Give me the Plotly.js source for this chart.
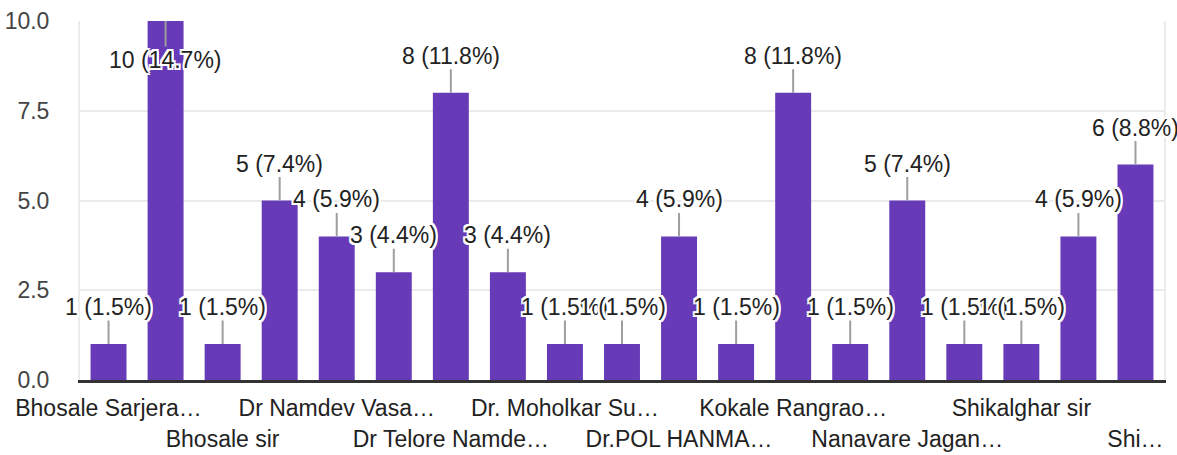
<!DOCTYPE html>
<html>
<head>
<meta charset="utf-8">
<script src="https://cdn.plot.ly/plotly-3.0.1.min.js"></script>
<style>html,body{margin:0;padding:0;background:#fff;}#chart{width:1177px;height:455px;}</style>
</head>
<body>
<div id="chart"></div>
<script>
// Tick labels shown under the bars (empty = not labelled in the chart)
const labels = [
  "Bhosale Sarjera…", "", "Bhosale sir", "", "Dr Namdev Vasa…", "", "Dr Telore Namde…", "",
  "Dr. Moholkar Su…", "", "Dr.POL HANMA…", "", "Kokale Rangrao…", "", "Nanavare Jagan…", "",
  "Shikalghar sir", "", "Shi…"
];
const values = [1, 10, 1, 5, 4, 3, 8, 3, 1, 1, 4, 1, 8, 1, 5, 1, 1, 4, 6];
const yTicks = [0, 2.5, 5, 7.5, 10];

const idx = values.map((_, i) => i);
const total = values.reduce((a, b) => a + b, 0);
const yMax = 10;

const font = "'Liberation Sans', Arial, sans-serif";
const fs = 23;
const halo = "2px 0 0 #fff, -2px 0 0 #fff, 0 2px 0 #fff, 0 -2px 0 #fff, 2px 2px 0 #fff, -2px -2px 0 #fff, 2px -2px 0 #fff, -2px 2px 0 #fff";

const row1 = [], row2 = [];
labels.forEach((t, i) => {
  if (!t) return;
  if ((i / 2) % 2 === 0) row1.push(i); else row2.push(i);
});

const annotations = values.map((v, i) => {
  const top = v >= yMax;
  return {
    x: i, y: v, xref: "x", yref: "y",
    text: v + " (" + (v / total * 100).toFixed(1) + "%)",
    showarrow: true, arrowhead: 0, arrowwidth: 2, arrowcolor: "#9e9e9e",
    ax: 0, ay: top ? 39 : -37, standoff: 0, borderpad: 0,
    font: { family: font, size: fs, color: "#222", shadow: halo }
  };
});

const trace = {
  type: "bar", x: idx, y: values,
  marker: { color: "#673ab7" },
  hoverinfo: "none", cliponaxis: false
};
const ghost = {
  type: "scatter", x: [0], y: [0], xaxis: "x2", mode: "markers",
  marker: { opacity: 0 }, hoverinfo: "none", showlegend: false
};

const layout = {
  width: 1177, height: 455,
  margin: { l: 80, r: 13, t: 21, b: 75 },
  paper_bgcolor: "#fff", plot_bgcolor: "#fff",
  showlegend: false, bargap: 0.37,
  xaxis: {
    range: [-0.5, values.length - 0.5],
    tickmode: "array", tickvals: row1, ticktext: row1.map(i => labels[i]),
    ticks: "", showgrid: false, zeroline: false,
    showline: true, linecolor: "#333", linewidth: 3,
    ticklabelstandoff: 5,
    tickfont: { family: font, size: fs, color: "#222" }
  },
  xaxis2: {
    overlaying: "x", side: "bottom", anchor: "y",
    range: [-0.5, values.length - 0.5],
    tickmode: "array", tickvals: row2, ticktext: row2.map(i => labels[i]),
    ticks: "", showgrid: false, zeroline: false, showline: false,
    ticklabelstandoff: 43,
    tickfont: { family: font, size: fs, color: "#222" }
  },
  yaxis: {
    range: [0, yMax],
    tickmode: "array", tickvals: yTicks, ticktext: yTicks.map(t => t.toFixed(1)),
    gridcolor: "#ebebeb", gridwidth: 2, zeroline: false,
    showline: true, linecolor: "#ebebeb", linewidth: 2, mirror: true,
    ticks: "", ticklabelstandoff: 24,
    tickfont: { family: font, size: fs, color: "#444" }
  },
  annotations: annotations
};

Plotly.newPlot("chart", [trace, ghost], layout, { displayModeBar: false, staticPlot: true });
</script>
</body>
</html>
